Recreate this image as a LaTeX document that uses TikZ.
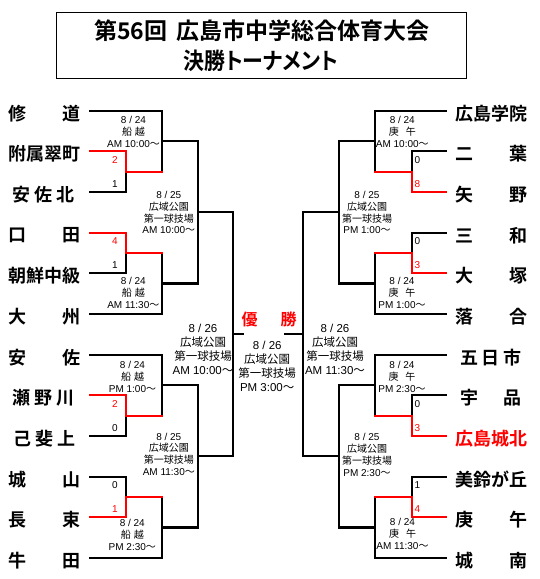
\documentclass[tikz,border=0pt]{standalone}
\usepackage{fontspec}
\setmainfont{Liberation Sans}
\newfontfamily\jp{Noto Sans CJK JP}[BoldFont={Noto Sans CJK JP Bold}]
\newfontfamily\jpp{Noto Sans CJK JP Bold}[RawFeature=+palt]
\newcommand\wv{{\jp 〜}}
\newcommand\twoc[2]{\makebox[72pt][s]{#1\hfill#2}}
\newcommand\threec[3]{\makebox[62pt][s]{#1\hfill#2\hfill#3}}
\newcommand\fun{{\jp 船}\hspace{3pt}{\jp 越}}
\newcommand\kog{{\jp 庚}\hspace{7pt}{\jp 午}}
\newcommand\kouen{{\jp 広域公園}\\{\jp 第一球技場}}
\begin{document}
\begin{tikzpicture}[x=1pt,y=-1pt,
  br/.style={line width=2.2pt,line cap=rect},
  win/.style={br,draw=red},
  team/.style={font=\jp\bfseries\fontsize{18}{20}\selectfont,inner sep=0},
  sc/.style={font=\fontsize{10}{12}\selectfont,inner sep=0},
  info/.style={font=\fontsize{10}{12}\selectfont,align=center,inner sep=0,anchor=north},
  infob/.style={font=\fontsize{10}{11.8}\selectfont,align=center,inner sep=0,anchor=north},
  infoc/.style={font=\fontsize{11.5}{14.2}\selectfont,align=center,inner sep=0,anchor=north}]
\useasboundingbox (0,0) rectangle (540,579);
% title
\node[draw,line width=0.9pt,minimum width=410.7pt,minimum height=65.6pt,inner sep=0] (title) at (261.35,45.5) {};
\node[font=\jp\bfseries\fontsize{23}{26}\selectfont,inner sep=0] (t1) at (261.7,31) {第56回\hspace{9pt}広島市中学総合体育大会};
\node[font=\jpp\fontsize{23}{26}\selectfont,inner sep=0] (t2) at (261,61) {\scalebox{0.91}[1]{決勝トーナメント}};
% team line ends
\foreach \i/\y in {1/110.7,2/151.3,3/192,4/232.7,5/273.3,6/314,7/354.7,8/395.3,9/436,10/476.7,11/517.3,12/558}{
  \coordinate (l\i) at (90,\y);
  \coordinate (r\i) at (446,\y);
}
% left names
\node[team] (nl1) at (44.5,113.4) {\twoc{修}{道}};
\node[team] (nl2) at (44.5,154) {附属翠町};
\node[team] (nl3) at (43.5,194.7) {\threec{安}{佐}{北}};
\node[team] (nl4) at (44.5,235.4) {\twoc{口}{田}};
\node[team] (nl5) at (44.5,276) {朝鮮中級};
\node[team] (nl6) at (44.5,316.7) {\twoc{大}{州}};
\node[team] (nl7) at (44.5,357.4) {\twoc{安}{佐}};
\node[team] (nl8) at (43.5,398) {\threec{瀬}{野}{川}};
\node[team] (nl9) at (44.5,438.7) {\threec{己}{斐}{上}};
\node[team] (nl10) at (44.5,479.4) {\twoc{城}{山}};
\node[team] (nl11) at (44.5,520) {\twoc{長}{束}};
\node[team] (nl12) at (44.5,560.7) {\twoc{牛}{田}};
% right names
\node[team] (nr1) at (491,113.4) {広島学院};
\node[team] (nr2) at (491,154) {\twoc{二}{葉}};
\node[team] (nr3) at (491,194.7) {\twoc{矢}{野}};
\node[team] (nr4) at (491,235.4) {\twoc{三}{和}};
\node[team] (nr5) at (491,276) {\twoc{大}{塚}};
\node[team] (nr6) at (491,316.7) {\twoc{落}{合}};
\node[team] (nr7) at (491,357.4) {\threec{五}{日}{市}};
\node[team] (nr8) at (491,398) {\threec{宇}{}{品}};
\node[team,text=red] (nr9) at (491,438.7) {広島城北};
\node[team] (nr10) at (491,479.4) {美鈴が丘};
\node[team] (nr11) at (491,520) {\twoc{庚}{午}};
\node[team] (nr12) at (491,560.7) {\twoc{城}{南}};
% left brackets
\draw[br] (l1) -| (161.7,171.65);
\draw[br] (l3) -| (126,171.65);
\draw[win] (l2) -| (126,171.65) -- (161.7,171.65);
\draw[br] (l6) -| (161.7,253);
\draw[br] (l5) -| (126,253);
\draw[win] (l4) -| (126,253) -- (161.7,253);
\draw[br] (l7) -| (161.7,415.65);
\draw[br] (l9) -| (126,415.65);
\draw[win] (l8) -| (126,415.65) -- (161.7,415.65);
\draw[br] (l12) -| (161.7,497);
\draw[br] (l10) -| (126,497);
\draw[win] (l11) -| (126,497) -- (161.7,497);
\draw[br] (161.7,141.2) -| (198.3,283.5) -- (161.7,283.5);
\draw[br] (161.7,385.2) -| (198.3,527.5) -- (161.7,527.5);
\draw[br] (198.3,212.35) -| (233.3,456.35) -- (198.3,456.35);
\draw[br] (233.3,334.35) -- (243,334.35);
% right brackets
\draw[br] (r1) -| (375,171.65);
\draw[br] (r2) -| (411.7,171.65);
\draw[win] (r3) -| (411.7,171.65) -- (375,171.65);
\draw[br] (r6) -| (375,253);
\draw[br] (r4) -| (411.7,253);
\draw[win] (r5) -| (411.7,253) -- (375,253);
\draw[br] (r7) -| (375,415.65);
\draw[br] (r8) -| (411.7,415.65);
\draw[win] (r9) -| (411.7,415.65) -- (375,415.65);
\draw[br] (r12) -| (375,497);
\draw[br] (r10) -| (411.7,497);
\draw[win] (r11) -| (411.7,497) -- (375,497);
\draw[br] (375,141.2) -| (339,283.5) -- (375,283.5);
\draw[br] (375,385.2) -| (339,527.5) -- (375,527.5);
\draw[br] (339,212.35) -| (303.3,456.35) -- (339,456.35);
\draw[br] (303.3,334.35) -- (285,334.35);
% scores left
\node[sc,anchor=east,text=red] (sl2) at (118,159.8) {2};
\node[sc,anchor=east] (sl3) at (118,183.7) {1};
\node[sc,anchor=east,text=red] (sl4) at (118,241.2) {4};
\node[sc,anchor=east] (sl5) at (118,265) {1};
\node[sc,anchor=east,text=red] (sl8) at (118,403.8) {2};
\node[sc,anchor=east] (sl9) at (118,427.7) {0};
\node[sc,anchor=east] (sl10) at (118,485.2) {0};
\node[sc,anchor=east,text=red] (sl11) at (118,509) {1};
% scores right
\node[sc,anchor=west] (sr2) at (414.5,159.8) {0};
\node[sc,anchor=west,text=red] (sr3) at (414.5,183.7) {8};
\node[sc,anchor=west] (sr4) at (414.5,241.2) {0};
\node[sc,anchor=west,text=red] (sr5) at (414.5,265) {3};
\node[sc,anchor=west] (sr8) at (414.5,403.8) {0};
\node[sc,anchor=west,text=red] (sr9) at (414.5,427.7) {3};
\node[sc,anchor=west] (sr10) at (414.5,485.2) {1};
\node[sc,anchor=west,text=red] (sr11) at (414.5,509) {4};
% match info left
\node[info] (ml1) at (133.5,116) {8 / 24\\\fun\\AM 10:00\wv};
\node[info] (ml2) at (133.3,276.7) {8 / 24\\\fun\\AM 11:30\wv};
\node[info] (ml3) at (132.5,360.7) {8 / 24\\\fun\\PM 1:00\wv};
\node[info] (ml4) at (132.3,518.7) {8 / 24\\\fun\\PM 2:30\wv};
\node[infob] (ml5) at (168.8,191) {8 / 25\\\kouen\\AM 10:00\wv};
\node[infob] (ml6) at (168.8,432.7) {8 / 25\\\kouen\\AM 11:30\wv};
\node[infoc] (ml7) at (203,323.5) {8 / 26\\\kouen\\AM 10:00\wv};
% final
\node[infoc] (fin) at (267.2,340.6) {8 / 26\\\kouen\\PM 3:00\wv};
\node[font=\jp\bfseries\fontsize{16}{16}\selectfont,text=red,inner sep=0] (yu) at (249.7,319.2) {優};
\node[font=\jp\bfseries\fontsize{16}{16}\selectfont,text=red,inner sep=0] (sho) at (288.7,319.2) {勝};
% match info right
\node[infoc] (mr7) at (335,323.5) {8 / 26\\\kouen\\AM 11:30\wv};
\node[infob] (mr5) at (367,191) {8 / 25\\\kouen\\PM 1:00\wv};
\node[infob] (mr6) at (367,433.3) {8 / 25\\\kouen\\PM 2:30\wv};
\node[info] (mr1) at (402.3,116) {8 / 24\\\kog\\AM 10:00\wv};
\node[info] (mr2) at (402,276.7) {8 / 24\\\kog\\PM 1:00\wv};
\node[info] (mr3) at (402,360.7) {8 / 24\\\kog\\PM 2:30\wv};
\node[info] (mr4) at (402.5,518.3) {8 / 24\\\kog\\AM 11:30\wv};
\end{tikzpicture}
\end{document}
